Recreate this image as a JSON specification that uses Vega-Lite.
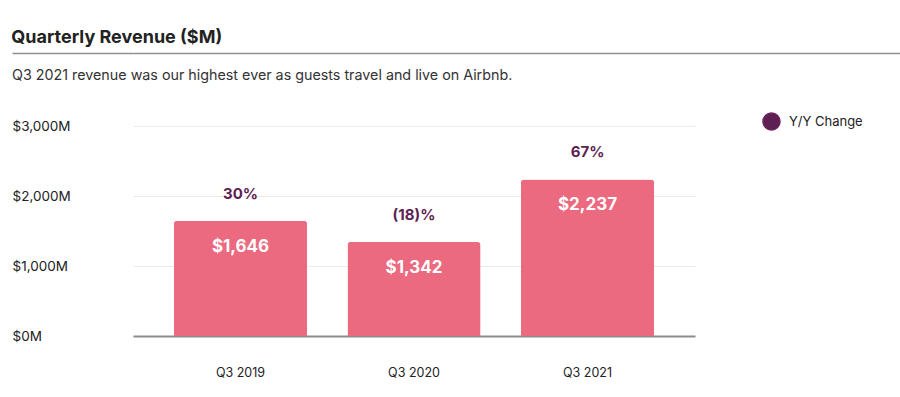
{
  "$schema": "https://vega.github.io/schema/vega-lite/v6.json",
  "padding": {"left": 11, "top": 29, "right": 0, "bottom": 0},
  "background": "white",
  "config": {
    "font": "Inter",
    "view": {"stroke": null},
    "concat": {"spacing": 9}
  },
  "vconcat": [
    {
      "width": 768,
      "height": 1,
      "title": {"text": "Quarterly Revenue ($M)", "anchor": "start", "fontSize": 18, "fontWeight": "bold", "color": "#222222", "offset": 1, "font": "Inter"},
      "data": {"values": [{"t": "", "v": 0}]},
      "mark": {"type": "text"},
      "encoding": {
        "text": {"field": "t"},
        "y": {"field": "v", "type": "quantitative", "scale": {"domain": [0, 1], "zero": false},
          "axis": {"title": null, "values": [1], "labels": false, "domain": false, "ticks": true, "tickSize": 121, "tickColor": "#8f8f8f", "tickWidth": 1.5, "grid": true, "gridColor": "#8f8f8f", "gridWidth": 1.5}}
      }
    },
    {
      "width": 562,
      "height": 210,
      "title": {"text": "Q3 2021 revenue was our highest ever as guests travel and live on Airbnb.", "anchor": "start", "fontSize": 14.3, "fontWeight": "normal", "color": "#333333", "offset": 36, "font": "Inter"},
      "data": {"values": [
        {"quarter": "Q3 2019", "revenue": 1646, "revLabel": "$1,646", "yoy": "30%", "series": "Y/Y Change"},
        {"quarter": "Q3 2020", "revenue": 1342, "revLabel": "$1,342", "yoy": "(18)%", "series": "Y/Y Change"},
        {"quarter": "Q3 2021", "revenue": 2237, "revLabel": "$2,237", "yoy": "67%", "series": "Y/Y Change"}
      ]},
      "encoding": {
        "x": {"field": "quarter", "type": "nominal", "sort": null,
          "scale": {"paddingInner": 0.233, "paddingOuter": 0.236},
          "axis": {"title": null, "labelAngle": 0, "ticks": false, "domainColor": "#8c8c8c", "domainWidth": 2, "labelPadding": 30, "labelFontSize": 12.5, "labelColor": "#222222", "grid": false}},
        "y": {"field": "revenue", "type": "quantitative",
          "scale": {"domain": [0, 3000]},
          "axis": {"title": null, "values": [0, 1000, 2000, 3000], "labelExpr": "'$' + format(datum.value, ',') + 'M'", "domain": false, "ticks": false, "labelAlign": "left", "labelPadding": 121, "labelFontSize": 13.5, "labelColor": "#222222", "gridColor": "#ebebeb", "gridWidth": 1}}
      },
      "layer": [
        {"mark": {"type": "bar", "color": "#EB6A7F", "cornerRadiusTopLeft": 3, "cornerRadiusTopRight": 3}},
        {"mark": {"type": "text", "color": "white", "fontSize": 17, "fontWeight": "bold", "baseline": "middle", "dy": 26},
          "encoding": {"text": {"field": "revLabel"}}},
        {"mark": {"type": "text", "fontSize": 15, "fontWeight": "bold", "baseline": "middle", "dy": -27},
          "encoding": {"text": {"field": "yoy"},
            "color": {"field": "series", "type": "nominal", "scale": {"range": ["#5E1F52"]},
              "legend": {"title": null, "orient": "none", "legendX": 629, "legendY": 59, "symbolType": "circle", "symbolSize": 289, "symbolFillColor": "#6B2160", "symbolStrokeColor": "#6B2160", "symbolOpacity": 1, "labelFontSize": 13, "labelColor": "#222222", "labelOffset": 8}}}}
      ]
    }
  ]
}
